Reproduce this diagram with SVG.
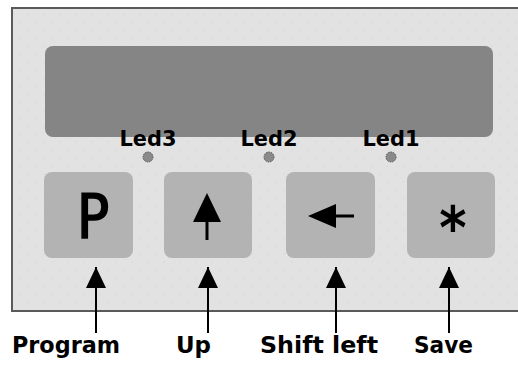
<svg xmlns="http://www.w3.org/2000/svg" width="518" height="374" viewBox="0 0 518 374">
  <style>
    .key { fill: #b3b3b3; }
    .led { fill: #8a8a8a; stroke: #555; stroke-width: 1; stroke-dasharray: 1.5 1; }
    .ledtxt { font-family: "DejaVu Sans Condensed", "DejaVu Sans", sans-serif; font-weight: bold; font-size: 21px; fill: #000; text-anchor: middle; }
    .lbl { font-family: "DejaVu Sans Condensed", "DejaVu Sans", sans-serif; font-weight: bold; font-size: 23px; fill: #000; }
    .glyph { font-family: "DejaVu Sans Condensed", "DejaVu Sans", sans-serif; fill: #000; text-anchor: middle; }
    .conn { stroke: #000; stroke-width: 2; fill: none; }
  </style>
  <defs>
    <pattern id="tex" width="16" height="16" patternUnits="userSpaceOnUse">
      <rect width="16" height="16" fill="#e2e2e2"/>
      <path d="M3,7 L5,5 M11,15 L13,13" stroke="#d8d8d8" stroke-width="1"/>
    </pattern>
    <marker id="ah" markerUnits="userSpaceOnUse" markerWidth="22" markerHeight="22" refX="21" refY="10" orient="auto">
      <path d="M0,0 L21,10 L0,20 z" fill="#000"/>
    </marker>
  </defs>
  <rect width="518" height="374" fill="#fff"/>
  <g id="panel">
    <rect x="12" y="8" width="520" height="303" fill="url(#tex)" stroke="#5a5a5a" stroke-width="2"/>
    <rect x="45" y="46" width="448" height="91" rx="8" fill="#858585"/>
  </g>
  <g id="led3">
    <text class="ledtxt" x="148" y="146" textLength="57" lengthAdjust="spacingAndGlyphs">Led3</text>
    <circle class="led" cx="148" cy="157" r="5"/>
  </g>
  <g id="led2">
    <text class="ledtxt" x="269" y="146" textLength="57" lengthAdjust="spacingAndGlyphs">Led2</text>
    <circle class="led" cx="269" cy="157" r="5"/>
  </g>
  <g id="led1">
    <text class="ledtxt" x="391" y="146" textLength="57" lengthAdjust="spacingAndGlyphs">Led1</text>
    <circle class="led" cx="391" cy="157" r="5"/>
  </g>
  <g id="key-program">
    <rect class="key" x="44" y="172" width="89" height="86" rx="8"/>
    <text class="glyph" x="93" y="238" font-size="60" stroke="#000" stroke-width="1.4">P</text>
  </g>
  <g id="key-up">
    <rect class="key" x="164" y="172" width="88" height="86" rx="8"/>
    <path d="M207,193 L221,222 L193,222 z" fill="#000"/>
    <rect x="205.5" y="221" width="3" height="19" fill="#000"/>
  </g>
  <g id="key-shift">
    <rect class="key" x="286" y="172" width="89" height="86" rx="8"/>
    <path d="M308,216 L336,204 L336,228 z" fill="#000"/>
    <rect x="335" y="214.5" width="19" height="3" fill="#000"/>
  </g>
  <g id="key-save">
    <rect class="key" x="407" y="172" width="88" height="86" rx="8"/>
    <text class="glyph" x="453" y="248" font-size="58" font-weight="bold">*</text>
  </g>
  <g id="connectors">
    <line class="conn" x1="96" y1="333" x2="96" y2="267" marker-end="url(#ah)"/>
    <line class="conn" x1="208" y1="333" x2="208" y2="267" marker-end="url(#ah)"/>
    <line class="conn" x1="336" y1="333" x2="336" y2="267" marker-end="url(#ah)"/>
    <line class="conn" x1="449" y1="333" x2="449" y2="267" marker-end="url(#ah)"/>
  </g>
  <g id="labels">
    <text class="lbl" x="12" y="353" textLength="108" lengthAdjust="spacingAndGlyphs">Program</text>
    <text class="lbl" x="176" y="353" textLength="35" lengthAdjust="spacingAndGlyphs">Up</text>
    <text class="lbl" x="260" y="353" textLength="118" lengthAdjust="spacingAndGlyphs">Shift left</text>
    <text class="lbl" x="414" y="353" textLength="59" lengthAdjust="spacingAndGlyphs">Save</text>
  </g>
</svg>
